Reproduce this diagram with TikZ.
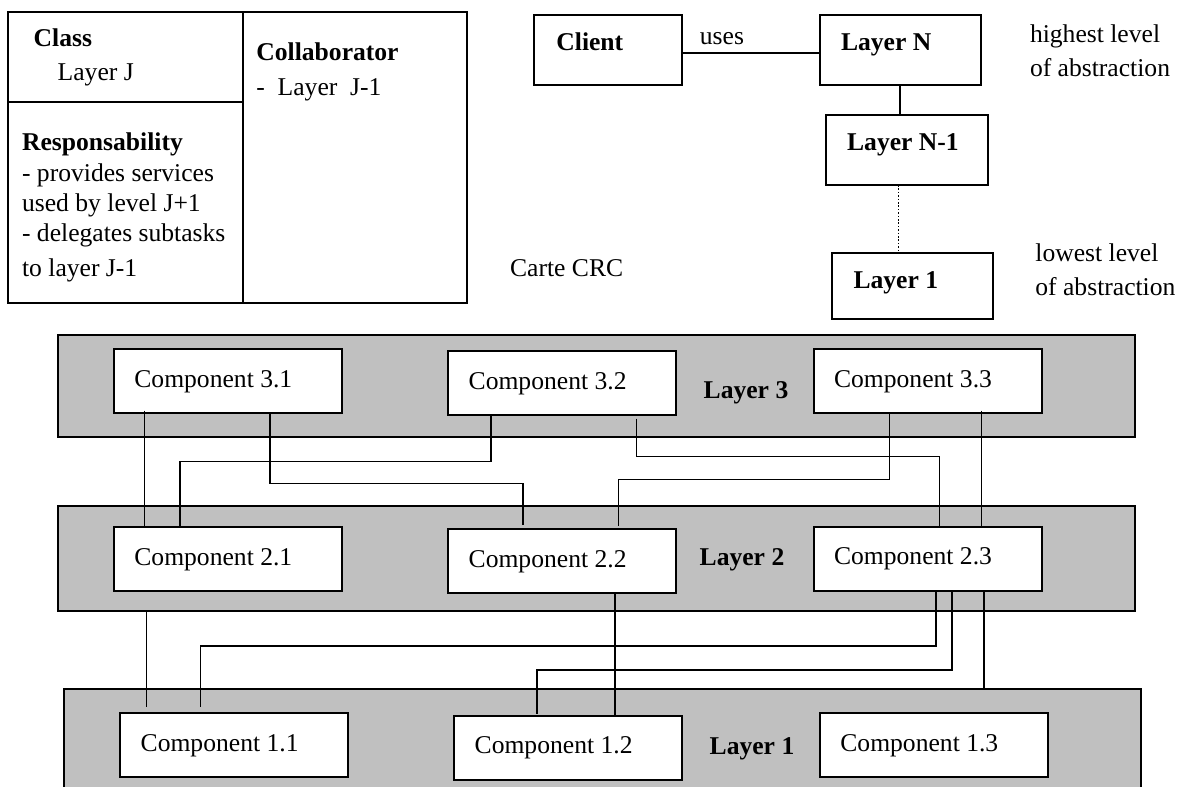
\documentclass[tikz,border=0pt]{standalone}
\usepackage{fontspec}
\setmainfont{Liberation Serif}
\definecolor{bandgray}{RGB}{192,192,192}
\newcommand\diagfont{\fontsize{12.8pt}{15.4pt}\selectfont}
\tikzset{
  frame/.style={draw=black, line width=1pt, outer sep=0pt, inner sep=0pt},
  band/.style={frame, fill=bandgray},
  comp/.style={frame, fill=white, minimum width=114pt, minimum height=32pt,
    text width=93.6pt, inner xsep=10.2pt, align=flush left, font=\diagfont},
  hbox/.style={frame, fill=white, align=flush left, inner xsep=10.75pt,
    text height=8.6pt, text depth=8pt, font=\diagfont\bfseries},
  wire/.style={line width=0.8pt},
  dotwire/.style={line width=0.75pt, dash pattern=on 0.8pt off 0.9pt},
  txt/.style={anchor=base west, inner sep=0pt, font=\diagfont},
  btxt/.style={txt, font=\diagfont\bfseries},
}
\begin{document}
\begin{tikzpicture}[x=0.5pt, y=-0.5pt, line join=miter]
\useasboundingbox (0,0) rectangle (1185,787);
\clip (0,0) rectangle (1185,787);
\fill[white] (0,0) rectangle (1185,787);

% ---------- CRC card ----------
\node[frame, minimum width=229.5pt, minimum height=145.5pt] (crc) at (237.5,157.5) {};
\draw[line width=1pt] ([xshift=117.25pt]crc.north west) -- ([xshift=117.25pt]crc.south west);
\draw[line width=1pt] ([yshift=-45pt]crc.north west) -- ([xshift=117.25pt,yshift=-45pt]crc.north west);
\node[btxt] (tclass) at (33.3,46.7) {Class};
\node[txt]  (tlayj) at (57.3,80.7) {Layer J};
\node[btxt] (tcollab) at (256,61) {Collaborator};
\node[txt]  (tcollab1) at (256,95) {-\ \ Layer\ \ J-1};
\node[btxt] (tresp) at (21.7,150) {Responsability};
\node[txt]  (tresp1) at (21.7,181.7) {- provides services};
\node[txt]  (tresp2) at (21.7,211.7) {used by level J+1};
\node[txt]  (tresp3) at (21.7,241.7) {- delegates subtasks};
\node[txt]  (tresp4) at (21.7,276) {to layer J-1};
\node[txt]  (tcarte) at (509.7,276) {Carte CRC};

% ---------- layer stack ----------
\node[hbox, minimum width=73.8pt, minimum height=35pt, text width=51.8pt, inner xsep=11pt] (client) at (608.2,50) {Client};
\node[hbox, minimum width=80.75pt, minimum height=35pt, text width=59.25pt] (layN) at (900.25,50) {Layer N};
\node[hbox, minimum width=81pt, minimum height=35pt, text width=59.5pt] (layN1) at (906.65,150) {Layer N-1};
\node[hbox, minimum width=80.5pt, minimum height=33pt, text width=59pt, text depth=6.6pt] (lay1) at (912.5,286) {Layer 1};
\node[txt] (tuses) at (699.5,44) {uses};
\node[txt] (thigh1) at (1029.6,42.3) {highest level};
\node[txt] (thigh2) at (1029.6,76) {of abstraction};
\node[txt] (tlow1) at (1035,261.7) {lowest level};
\node[txt] (tlow2) at (1035,295) {of abstraction};

\draw[wire] ([yshift=-1.5pt]client.east) -- ([yshift=-1.5pt]layN.west);
\draw[wire] (layN.south) -- (layN.south |- layN1.north);
\coordinate (dtop) at ([xshift=36.4pt]layN1.south west);
\draw[dotwire] (dtop) -- (dtop |- lay1.north);

% ---------- layers and components ----------
\node[band, minimum width=538.35pt, minimum height=51.15pt] (band3) at (596.65,386.15) {};
\node[band, minimum width=538.35pt, minimum height=52.75pt] (band2) at (596.65,558.25) {};
\node[band, minimum width=538.5pt, minimum height=65.35pt] (band1) at (602.5,754.65) {};

\node[btxt] (tl3) at (703.3,398.3) {Layer 3};
\node[btxt] (tl2) at (699.3,565) {Layer 2};
\node[btxt] (tl1) at (709.3,754) {Layer 1};

\node[comp] (c31) at (228,381.3) {Component 3.1};
\node[comp] (c32) at (562.3,383.3) {Component 3.2};
\node[comp] (c33) at (927.7,381.3) {Component 3.3};
\node[comp] (c21) at (228,559.3) {Component 2.1};
\node[comp] (c22) at (562.3,561.3) {Component 2.2};
\node[comp] (c23) at (927.7,559.2) {Component 2.3};
\node[comp] (c11) at (234.3,745.3) {Component 1.1};
\node[comp] (c12) at (568.3,747.5) {Component 1.2};
\node[comp] (c13) at (934,745.3) {Component 1.3};

% layer 3 -> layer 2
\draw[wire] ([xshift=15.15pt,yshift=1.3pt]c31.south west) -- ([xshift=15.15pt]c21.north west);
\draw[wire] ([xshift=78pt]c31.south west) -- ++(0,70) -| ([xshift=37.2pt,yshift=2pt]c22.north west);
\draw[wire] ([xshift=21.35pt]c32.south west) -- ++(0,46) -| ([xshift=33pt]c21.north west);
\draw[wire] ([xshift=94pt,yshift=-1.65pt]c32.south west) -- ++(0,37.7) -| ([xshift=62.8pt]c23.north west);
\draw[wire] ([xshift=37.8pt]c33.south west) -- ++(0,66) -| ([xshift=85pt,yshift=1.65pt]c22.north west);
\draw[wire] ([xshift=83.8pt,yshift=1.3pt]c33.south west) -- ([xshift=83.8pt]c23.north west);

% layer 2 -> layer 1
\coordinate (g1) at ([xshift=13pt,yshift=3pt]c11.north west);
\draw[wire] (g1 |- band2.south) -- (g1);
\draw[wire] ([xshift=61.15pt]c23.south west) -- ++(0,55) -| ([xshift=40pt,yshift=3pt]c11.north west);
\draw[wire] ([xshift=69.15pt]c23.south west) -- ++(0,78.5) -| ([xshift=41.2pt,yshift=0.85pt]c12.north west);
\coordinate (j1) at ([xshift=85.15pt]c23.south west);
\draw[wire] (j1) -- (j1 |- band1.north);
\coordinate (k1) at ([xshift=83.2pt]c22.south west);
\draw[wire] (k1) -- (k1 |- c12.north);
\end{tikzpicture}
\end{document}
